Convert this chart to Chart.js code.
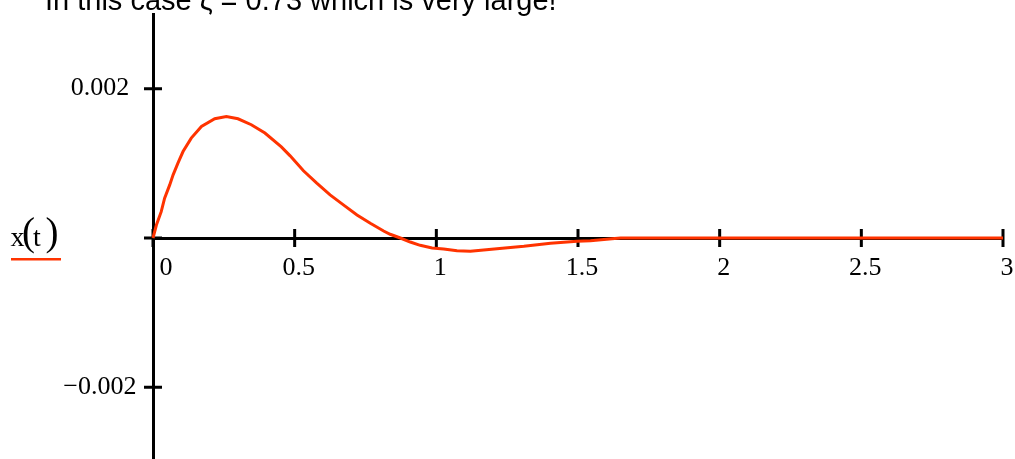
<!DOCTYPE html>
<html>
<head>
<meta charset="utf-8">
<script src="https://cdn.jsdelivr.net/npm/chart.js@4/dist/chart.umd.min.js"></script>
<style>
  html, body { margin: 0; padding: 0; background: #fff; overflow: hidden; }
  #wrap { position: relative; width: 1015px; height: 462px; }
  canvas { display: block; }
</style>
</head>
<body>
<div id="wrap"><canvas id="plot" width="1015" height="462"></canvas></div>
<script>
// Response x(t) of the damped system, sampled over time t (s)
const timeS = [0, 0.012, 0.029, 0.041, 0.059, 0.071, 0.088, 0.106, 0.135, 0.171,
  0.218, 0.259, 0.300, 0.347, 0.395, 0.453, 0.484, 0.531, 0.578, 0.625,
  0.672, 0.720, 0.767, 0.814, 0.837, 0.861, 0.873, 0.908, 0.943, 0.985,
  1.026, 1.073, 1.120, 1.167, 1.214, 1.309, 1.403, 1.497, 1.544, 1.620,
  1.650, 3.0];
const displacement = [0, 0.000174, 0.000353, 0.000533, 0.000711, 0.000846, 0.001003, 0.001158, 0.001338, 0.001494,
  0.001597, 0.001628, 0.001597, 0.001517, 0.001405, 0.001220, 0.001100, 0.000900, 0.000734, 0.000577,
  0.000443, 0.000309, 0.000197, 0.000094, 0.000050, 0.000017, 0, -0.000054, -0.000098, -0.000134,
  -0.000148, -0.000170, -0.000179, -0.000160, -0.000143, -0.000112, -0.000070, -0.000045, -0.000036, -0.000010,
  0, 0];

// Axis ticks and their labels
const xTickValues = [0, 0.5, 1, 1.5, 2, 2.5, 3];
const xTickLabels = ['\u2002\u20090', '0.5', '1', '1.5', '2', '2.5', '3'];
const yTickValues = [-0.002, 0, 0.002];
const yTickLabels = ['\u22120.002', '', '0.002'];

const titleText = 'In this case \u03B6 = 0.73 which is very large!';
const traceColor = '#ff3300';
const serif = '"Liberation Serif", "Times New Roman", serif';
const sans = '"Liberation Sans", Arial, sans-serif';

// Tick marks crossing the axes on both sides, placed by the scales
const crossTicks = {
  id: 'crossTicks',
  beforeDatasetsDraw(chart) {
    const {ctx, scales: {x, y}} = chart;
    const x0 = x.getPixelForValue(0);
    const y0 = y.getPixelForValue(0);
    const half = 9;
    ctx.save();
    ctx.strokeStyle = '#000';
    ctx.lineWidth = 3;
    ctx.beginPath();
    xTickValues.forEach(v => {
      const px = x.getPixelForValue(v);
      ctx.moveTo(px, y0 - half);
      ctx.lineTo(px, y0 + half);
    });
    yTickValues.forEach(v => {
      const py = y.getPixelForValue(v);
      ctx.moveTo(x0 - half, py);
      ctx.lineTo(x0 + half, py);
    });
    ctx.stroke();
    ctx.restore();
  }
};

// Heading text and the trace label x(t) with its coloured underline
const annotations = {
  id: 'annotations',
  afterDraw(chart) {
    const ctx = chart.ctx;
    ctx.save();
    ctx.fillStyle = '#000';
    ctx.textBaseline = 'alphabetic';
    ctx.textAlign = 'left';
    ctx.font = '29px ' + sans;
    ctx.fillText(titleText, 45, 10);

    ctx.font = '28px ' + serif;
    ctx.fillText('x', 10.5, 245.5);
    ctx.fillText('t', 33, 245.5);
    ctx.font = '39px ' + serif;
    ctx.fillText('(', 22, 245);
    ctx.fillText(')', 45.5, 245);

    ctx.fillStyle = traceColor;
    ctx.fillRect(11, 258, 50, 2.5);
    ctx.restore();
  }
};

new Chart(document.getElementById('plot'), {
  type: 'line',
  data: {
    datasets: [{
      label: 'x(t)',
      data: timeS.map((t, i) => ({x: t, y: displacement[i]})),
      borderColor: traceColor,
      borderWidth: 3,
      pointRadius: 0,
      tension: 0,
      fill: false,
      clip: false
    }]
  },
  options: {
    responsive: false,
    animation: false,
    devicePixelRatio: 1,
    layout: { padding: { left: 0, right: 12, top: 14, bottom: 0 } },
    plugins: {
      legend: { display: false },
      title: { display: false },
      tooltip: { enabled: false }
    },
    scales: {
      x: {
        type: 'linear',
        min: 0,
        max: 3,
        position: { y: 0 },
        afterBuildTicks: s => { s.ticks = xTickValues.map(v => ({value: v})); },
        afterFit: s => { s.paddingLeft = 0; s.paddingRight = 0; s.paddingTop = 0; s.paddingBottom = 0; },
        grid: { display: true, drawOnChartArea: false, drawTicks: false, color: '#000' },
        border: { display: true, color: '#000', width: 3 },
        ticks: {
          autoSkip: false,
          maxRotation: 0,
          padding: 15,
          labelOffset: 4,
          color: '#000',
          font: { family: serif, size: 26 },
          callback: (v, i) => xTickLabels[i]
        }
      },
      y: {
        type: 'linear',
        min: -0.003,
        max: 0.003,
        position: 'left',
        afterBuildTicks: s => { s.ticks = yTickValues.map(v => ({value: v})); },
        afterFit: s => { s.width = 153; s.paddingTop = 0; s.paddingBottom = 0; },
        grid: { display: true, drawOnChartArea: false, drawTicks: false, color: '#000' },
        border: { display: true, color: '#000', width: 3 },
        ticks: {
          autoSkip: false,
          padding: 16.5,
          crossAlign: 'center',
          color: '#000',
          font: { family: serif, size: 26 },
          callback: (v, i) => yTickLabels[i]
        }
      }
    }
  },
  plugins: [crossTicks, annotations]
});
</script>
</body>
</html>
